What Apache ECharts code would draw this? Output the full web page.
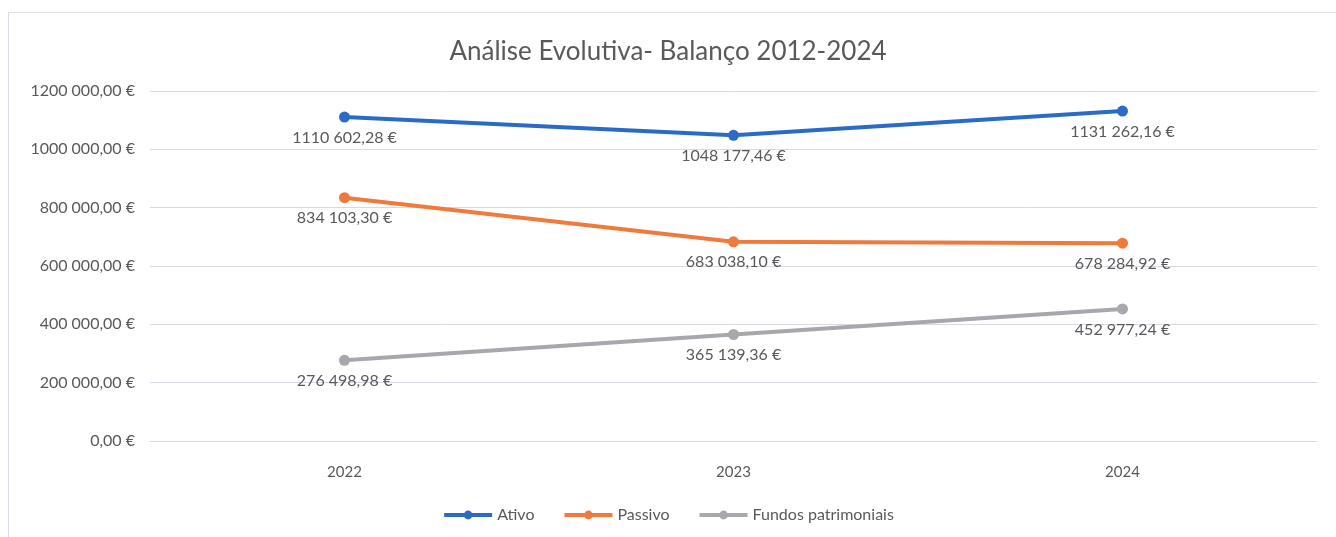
<!DOCTYPE html>
<html>
<head>
<meta charset="utf-8">
<script src="https://cdn.jsdelivr.net/npm/echarts@6/dist/echarts.min.js"></script>
<style>
  html, body { margin: 0; padding: 0; background: #fff; }
  #frame {
    position: absolute; left: 8px; top: 12px; width: 1340px; height: 540px;
    border-top: 1px solid #dcdbe6; border-left: 1px solid #dcdbe6;
  }
  #chart { position: absolute; left: 0; top: 0; width: 1336px; height: 537px; }
</style>
</head>
<body>
<div id="frame"></div>
<div id="chart"></div>
<script>
// data
const categories = ['2022', '2023', '2024'];
const ativo = [1110602.28, 1048177.46, 1131262.16];
const passivo = [834103.30, 683038.10, 678284.92];
const fundos = [276498.98, 365139.36, 452977.24];
const yTicks = [0, 200000, 400000, 600000, 800000, 1000000, 1200000];

// "1110 602,28 €" style, only the last thousands group split off
function euro(v) {
  const parts = Number(v).toFixed(2).split('.');
  let s = parts[0];
  if (s.length > 3) s = s.slice(0, -3) + ' ' + s.slice(-3);
  return s + ',' + parts[1] + ' €';
}

const font = 'Lato';
const textGray = '#595959';

function line(name, data, color) {
  return {
    name: name,
    type: 'line',
    data: data,
    symbol: 'circle',
    symbolSize: 11,
    color: color,
    lineStyle: { color: color, width: 4 },
    label: {
      show: true,
      position: 'bottom',
      distance: 7,
      color: textGray,
      fontFamily: font,
      fontSize: 16,
      formatter: p => euro(p.value)
    }
  };
}

const chart = echarts.init(document.getElementById('chart'));
chart.setOption({
  animation: false,
  title: {
    text: 'Análise Evolutiva- Balanço 2012-2024',
    left: 'center',
    top: 34,
    textStyle: { color: textGray, fontFamily: font, fontSize: 26, fontWeight: 'normal' }
  },
  legend: {
    bottom: 9,
    left: 'center',
    itemWidth: 48,
    itemHeight: 11,
    itemGap: 28,
    lineStyle: { width: 4 },
    textStyle: { color: textGray, fontFamily: font, fontSize: 16 },
    data: ['Ativo', 'Passivo', 'Fundos patrimoniais']
  },
  grid: { left: 150, width: 1167, top: 91, height: 350 },
  xAxis: {
    type: 'category',
    data: categories,
    axisLine: { lineStyle: { color: '#d9d8e4' } },
    axisTick: { show: false },
    axisLabel: { color: textGray, fontFamily: font, fontSize: 15, margin: 24 }
  },
  yAxis: {
    type: 'value',
    min: yTicks[0],
    max: yTicks[yTicks.length - 1],
    interval: yTicks[1] - yTicks[0],
    axisLabel: { color: textGray, fontFamily: font, fontSize: 16, margin: 15, formatter: v => euro(v) },
    splitLine: { lineStyle: { color: '#d9d8e4' } }
  },
  series: [
    line('Ativo', ativo, '#2b6bc6'),
    line('Passivo', passivo, '#ef7a3c'),
    line('Fundos patrimoniais', fundos, '#a9a6ae')
  ]
});
</script>
</body>
</html>
